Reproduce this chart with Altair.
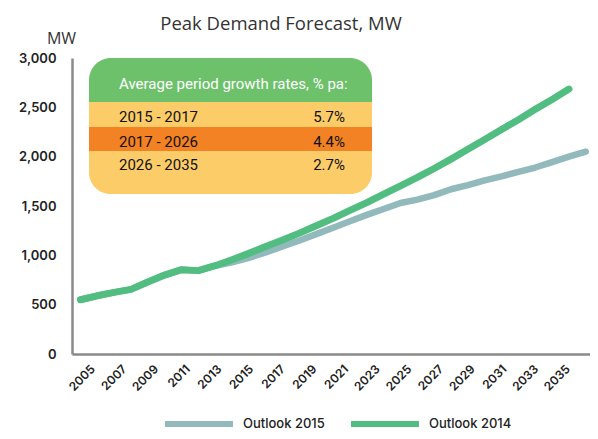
import altair as alt
import pandas as pd

years_2015 = list(range(2005, 2036))
outlook_2015 = [550, 590, 625, 655, 730, 800, 855, 845, 895, 930, 975, 1030, 1090,
                1150, 1215, 1280, 1345, 1410, 1470, 1530, 1565, 1610, 1670, 1712,
                1760, 1800, 1845, 1890, 1945, 2000, 2050]
years_2014 = list(range(2005, 2035))
outlook_2014 = [550, 590, 625, 655, 730, 800, 855, 845, 895, 955, 1020, 1090, 1155,
                1225, 1300, 1375, 1455, 1535, 1620, 1705, 1790, 1880, 1975, 2075,
                2175, 2275, 2375, 2480, 2580, 2685]
tick_years = list(range(2005, 2036, 2))
y_ticks = [0, 500, 1000, 1500, 2000, 2500, 3000]

table_header = "Average period growth rates, % pa:"
table_periods = ["2015 - 2017", "2017 - 2026", "2026 - 2035"]
table_rates = ["5.7%", "4.4%", "2.7%"]

series_names = ["Outlook 2015", "Outlook 2014"]
series_colors = ["#92B9BC", "#52BD80"]

AX_FONT = "Inter"
NARROW = "Roboto, sans-serif"

df15 = pd.DataFrame({"year": years_2015, "mw": outlook_2015, "series": "Outlook 2015"})
df14 = pd.DataFrame({"year": years_2014, "mw": outlook_2014, "series": "Outlook 2014"})

x_line = alt.X("year:Q", scale=alt.Scale(domain=[2004.5, 2035.25], nice=False, zero=False), axis=None)
y_enc = alt.Y("mw:Q", scale=alt.Scale(domain=[0, 3000], nice=False),
              axis=alt.Axis(values=y_ticks, format=",d", title="MW", titleAngle=0,
                            titleX=-11, titleY=-15, titleAlign="center",
                            titleBaseline="alphabetic", titleFont="Open Sans",
                            titleFontSize=16, titleFontWeight="normal", titleColor="#333",
                            labelFont=AX_FONT, labelFontSize=13, labelFontWeight=600,
                            labelColor="#222", labelPadding=16, ticks=False, grid=False,
                            domainColor="#8a8a8a", domainWidth=2.5))
color_enc = alt.Color("series:N", scale=alt.Scale(domain=series_names, range=series_colors),
                      legend=alt.Legend(title=None, orient="none", direction="horizontal",
                                        legendX=90, legendY=329, symbolType="stroke",
                                        symbolSize=4624, symbolStrokeWidth=6,
                                        labelFont=AX_FONT, labelFontSize=13,
                                        labelFontWeight=500, labelColor="#222",
                                        labelOffset=7, columnPadding=14))

grey = alt.Chart(df15).mark_line(strokeWidth=6.5, strokeCap="round", strokeJoin="round").encode(
    x=x_line, y=y_enc, color=color_enc)
green = alt.Chart(df14).mark_line(strokeWidth=7, strokeCap="round", strokeJoin="round").encode(
    x=x_line, y=alt.Y("mw:Q"), color=alt.Color("series:N"))

# growth-rate table (annotation)
BOX_L, BOX_R = 17, 300
rows_y = [0, 44, 69, 93, 136]
band_colors = ["#6DC16B", "#FCCC69", "#F28224", "#FCCC69"]
ann = pd.DataFrame({"d": [0]})
bands = []
for i, col in enumerate(band_colors):
    kw = {}
    if i == 0:
        kw = dict(cornerRadiusTopLeft=40, cornerRadiusTopRight=40)
    if i == 3:
        kw = dict(cornerRadiusBottomLeft=40, cornerRadiusBottomRight=40)
    bands.append(alt.Chart(ann).mark_rect(color=col, **kw).encode(
        x=alt.value(BOX_L), x2=alt.value(BOX_R),
        y=alt.value(rows_y[i]), y2=alt.value(rows_y[i + 1])))

TFS = 15
header = alt.Chart(ann).mark_text(text=table_header, font=NARROW, fontSize=TFS, color="white",
                                  align="left", baseline="middle").encode(
    x=alt.value(47), y=alt.value(26))
row_centers = [59, 84, 107]
tdf = pd.DataFrame({"period": table_periods, "rate": table_rates, "yc": row_centers})
periods = alt.Chart(tdf).mark_text(font=NARROW, fontSize=TFS, color="#111", align="left",
                                   baseline="middle").encode(
    x=alt.value(47), y=alt.Y("yc:Q", scale=None), text="period:N")
rates = alt.Chart(tdf).mark_text(font=NARROW, fontSize=TFS, color="#111", align="right",
                                 baseline="middle").encode(
    x=alt.value(273), y=alt.Y("yc:Q", scale=None), text="rate:N")

# x axis with its own label scale
tdf_x = pd.DataFrame({"yr": tick_years})
xaxis_layer = alt.Chart(tdf_x).mark_point(opacity=0).encode(
    x=alt.X("yr:Q", scale=alt.Scale(domain=[2003.93, 2036.65], nice=False, zero=False),
            axis=alt.Axis(values=tick_years, format="d", orient="bottom", title=None,
                          labelAngle=-45, labelFont=AX_FONT, labelFontSize=12,
                          labelFontWeight=600, labelColor="#222", labelPadding=9,
                          ticks=False, grid=False, domainColor="#8a8a8a", domainWidth=2.5)))

lines = alt.layer(grey, green)
chart = alt.layer(xaxis_layer, lines, *bands, header, periods, rates).resolve_scale(
    x="independent").properties(
    width=518, height=296,
    autosize=alt.AutoSizeParams(type="none"),
    padding={"left": 64, "top": 50, "right": 0, "bottom": 77},
    title=alt.Title("Peak Demand Forecast, MW", font="Open Sans", fontSize=18.5,
                    fontWeight="normal", color="#333", anchor="middle", dx=-50, dy=5,
                    offset=2),
).configure_view(stroke=None)

chart.save("out.html", embed_options={"renderer": "svg", "actions": False})
